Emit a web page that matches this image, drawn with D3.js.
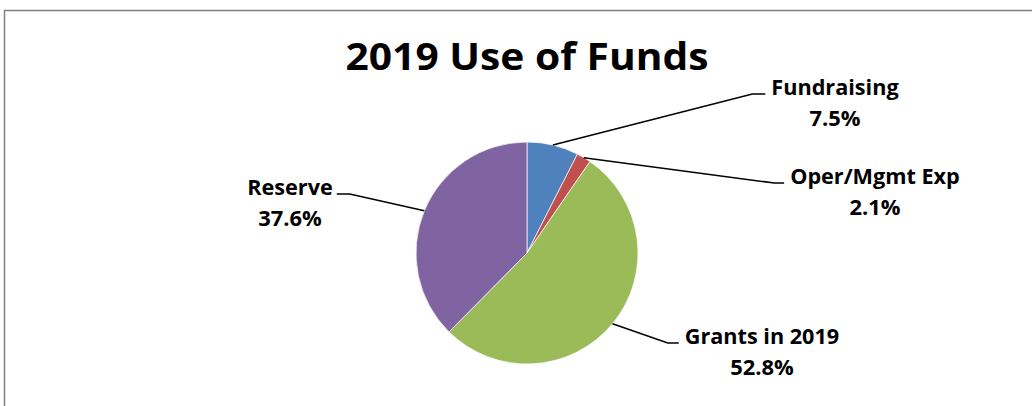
<!DOCTYPE html>
<html>
<head>
<meta charset="utf-8">
<script src="https://cdn.jsdelivr.net/npm/d3@7"></script>
<style>
  body { margin: 0; background: #fff; }
  text { font-family: "Open Sans", Lato, sans-serif; font-weight: bold; fill: #000; }
</style>
</head>
<body>
<div class="piechart"></div>
<script>
var categories = ['Fundraising', 'Oper/Mgmt Exp', 'Grants in 2019', 'Reserve']
var values = [7.5, 2.1, 52.8, 37.6]
var colors = ['#4F81BD', '#C0504D', '#9BBB59', '#8064A2']

// label layout: where the text block sits and which side the leader line joins
var labelPos = [
    {x: 835, y: 95, side: 'left', elbow: 13},
    {x: 875, y: 184, side: 'left', elbow: 10},
    {x: 762, y: 344, side: 'left', elbow: 11},
    {x: 290, y: 195, side: 'right', elbow: 13}
]

var W = 1032, H = 406
var cx = 527, cy = 253, radius = 111
var labelSize = 21.5

var svg = d3.select('.piechart').append('svg')
    .attr('width', W)
    .attr('height', H)

// chart frame (runs off the right and bottom edge)
svg.append('rect')
    .attr('x', 4.5).attr('y', 10.5)
    .attr('width', W + 10).attr('height', H + 10)
    .attr('fill', 'none')
    .attr('stroke', '#7f7f7f')
    .attr('stroke-width', 1.5)

// the reference font is narrower, squeeze to the measured width
svg.append('text')
    .attr('x', 527).attr('y', 70)
    .attr('text-anchor', 'middle')
    .style('font-size', '38px')
    .attr('textLength', 363).attr('lengthAdjust', 'spacingAndGlyphs')
    .text('2019 Use of Funds')

// names together are ~537px wide in the original
var squeezeName = 537 / d3.sum(categories, textWidth)
var squeezePct = 51 / textWidth('7.5%')

var data = categories.map(function(c, i){ return {name: c, value: values[i], color: colors[i], pos: labelPos[i]} })

var pie = d3.pie().sort(null).value(function(d){ return d.value })
var arc = d3.arc().innerRadius(0).outerRadius(radius)

var g = svg.append('g').attr('transform', 'translate(' + cx + ',' + cy + ')')

var arcs = pie(data)

g.selectAll('path').data(arcs)
    .enter().append('path')
    .attr('d', arc)
    .attr('fill', function(d){ return d.data.color })
    .attr('stroke', '#fff')
    .attr('stroke-width', 0.7)

var total = d3.sum(values)
arcs.forEach(function(a){
    var mid = (a.startAngle + a.endAngle) / 2
    var x0 = cx + radius * Math.sin(mid)
    var y0 = cy - radius * Math.cos(mid)
    var p = a.data.pos
    var tw = textWidth(a.data.name) * squeezeName
    var edge = p.side === 'left' ? p.x - tw / 2 - 6 : p.x + tw / 2 + 4
    var elbow = p.side === 'left' ? edge - p.elbow : edge + p.elbow
    // leader line
    svg.append('polyline')
        .attr('points', [[x0, y0], [elbow, p.y - 1], [edge, p.y - 1]].map(function(q){ return q.join(',') }).join(' '))
        .attr('fill', 'none')
        .attr('stroke', '#000')
        .attr('stroke-width', 1.5)

    label(a.data.name, p.x, p.y, squeezeName)
    label(d3.format('.1%')(a.data.value / total), p.x, p.y + 31, squeezePct)
})

function label(s, x, y, k){
    svg.append('text')
        .attr('x', x).attr('y', y)
        .attr('text-anchor', 'middle')
        .style('font-size', labelSize + 'px')
        .attr('textLength', textWidth(s) * k)
        .attr('lengthAdjust', 'spacingAndGlyphs')
        .text(s)
}

function textWidth(s){
    var t = svg.append('text').style('font-size', labelSize + 'px').text(s)
    var w = t.node().getComputedTextLength()
    t.remove()
    return w
}
</script>
</body>
</html>
